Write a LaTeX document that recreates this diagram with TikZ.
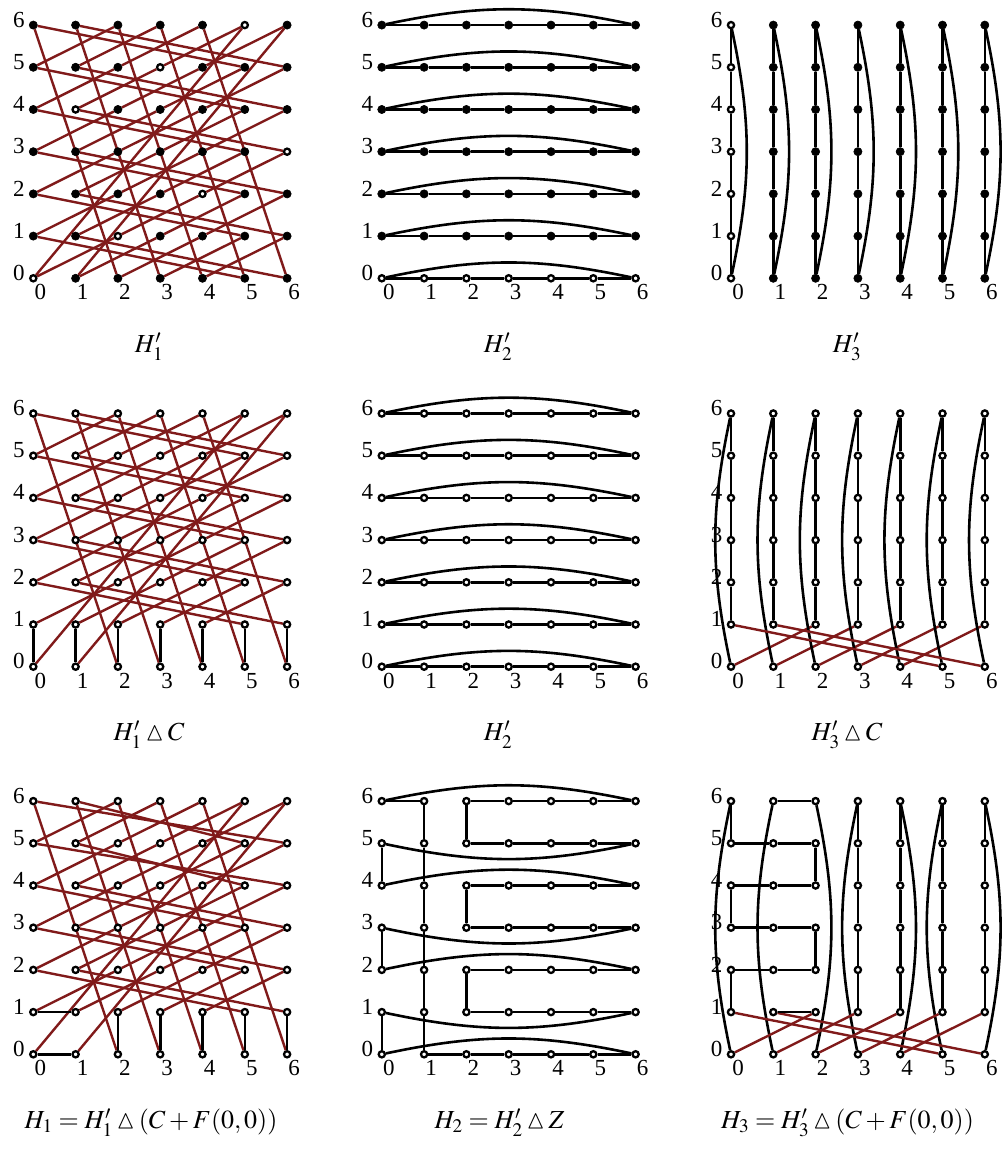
\documentclass[tikz,border=0pt]{standalone}
\usepackage{amssymb}
\usepackage{mathptmx}
\usepackage{fontspec}
\setmainfont{Liberation Serif}
\usetikzlibrary{backgrounds}
\definecolor{edgered}{RGB}{128,26,26}
\tikzset{
  vfill/.style={circle, fill=black, draw=black, line width=0.6pt, minimum size=8.2pt, inner sep=0pt},
  vhol/.style={circle, fill=white, draw=black, line width=2.3pt, minimum size=6.2pt, inner sep=0pt},
  redge/.style={draw=edgered, line width=2.4pt},
  bedge/.style={draw=black, line width=2.6pt},
  lab/.style={font=\fontsize{23}{25}\selectfont, inner sep=0pt},
  captxt/.style={font=\fontsize{26}{28}\selectfont, inner sep=0pt, anchor=base},
}
\newcommand{\mkverts}[4]{%
  \foreach \i in {0,...,6}{\foreach \j in {0,...,6}{%
    \ifcase#4 \def\h{1}\or
      \pgfmathtruncatemacro{\h}{mod(\i-2*\j+14,7)==0}\or
      \pgfmathtruncatemacro{\h}{\j==0}\or
      \pgfmathtruncatemacro{\h}{\i==0}\fi
    \ifnum\h=1 \node[vhol] (#1-\i-\j) at ({#2+\i*42.3},{#3+\j*42.2}) {};%
    \else \node[vfill] (#1-\i-\j) at ({#2+\i*42.3},{#3+\j*42.2}) {};\fi
  }}%
  \foreach \j in {0,...,6}{\node[lab] (#1-r\j) at ({#2-14.5},{#3+\j*42.2+5.5}) {\j};}%
  \foreach \i in {0,...,6}{\node[lab] (#1-c\i) at ({#2+\i*42.3+7},{#3-14}) {\i};}%
}
\begin{document}
\begin{tikzpicture}[x=1pt,y=1pt]
\useasboundingbox (0,0) rectangle (1005,1151);
% vertices
\mkverts{pa}{33.3}{872.7}{1}
\mkverts{pb}{381.8}{872.7}{2}
\mkverts{pc}{731}{872.7}{3}
\mkverts{pd}{33.3}{484.3}{0}
\mkverts{pe}{381.8}{484.3}{0}
\mkverts{pf}{731}{484.3}{0}
\mkverts{pg}{33.3}{96.7}{0}
\mkverts{ph}{381.8}{96.7}{0}
\mkverts{pi}{731}{96.7}{0}
% captions
\node[captxt] (capa) at (149,798.5) {$H'_1$};
\node[captxt] (capb) at (498,798.5) {$H'_2$};
\node[captxt] (capc) at (847,798.5) {$H'_3$};
\node[captxt] (capd) at (149,410.3) {$H'_1 \mathbin{\vartriangle} C$};
\node[captxt] (cape) at (498,410.3) {$H'_2$};
\node[captxt] (capf) at (847,410.3) {$H'_3 \mathbin{\vartriangle} C$};
\node[captxt] (capg) at (151,22) {$H_1 = H'_1 \mathbin{\vartriangle} (C + F(0,0))$};
\node[captxt] (caph) at (499.5,22) {$H_2 = H'_2 \mathbin{\vartriangle} Z$};
\node[captxt] (capi) at (847.5,22) {$H_3 = H'_3 \mathbin{\vartriangle} (C + F(0,0))$};
\begin{pgfonlayer}{background}
% ---- panel a: H1'
\foreach \i in {0,...,6}{\foreach \j in {0,...,6}{
  \pgfmathtruncatemacro{\k}{mod(\i+2,7)}
  \pgfmathtruncatemacro{\l}{mod(\j+1,7)}
  \draw[redge] (pa-\i-\j) -- (pa-\k-\l);
}}
% ---- panels b, e: H2'
\foreach \p in {pb,pe}{
  \foreach \j in {0,...,6}{
    \foreach \i [evaluate=\i as \k using int(\i+1)] in {0,...,5}{\draw[bedge] (\p-\i-\j) -- (\p-\k-\j);}
    \draw[bedge] (\p-0-\j) to[bend left=12] (\p-6-\j);
  }
}
% ---- panel c: H3'
\foreach \i in {0,...,6}{
  \foreach \j [evaluate=\j as \l using int(\j+1)] in {0,...,5}{\draw[bedge] (pc-\i-\j) -- (pc-\i-\l);}
  \draw[bedge] (pc-\i-0) to[bend right=12] (pc-\i-6);
}
% ---- panel d: diagonals without row 0 -> row 1
\foreach \i in {0,...,6}{\foreach \j in {1,...,6}{
  \pgfmathtruncatemacro{\k}{mod(\i+2,7)}
  \pgfmathtruncatemacro{\l}{mod(\j+1,7)}
  \draw[redge] (pd-\i-\j) -- (pd-\k-\l);
}}
\foreach \i in {0,...,6}{\draw[bedge] (pd-\i-0) -- (pd-\i-1);}
% ---- panel g: H1
\foreach \i in {0,...,6}{\foreach \j in {1,...,6}{
  \pgfmathtruncatemacro{\k}{mod(\i+2,7)}
  \pgfmathtruncatemacro{\l}{mod(\j+1,7)}
  \pgfmathtruncatemacro{\skip}{(\i>4)&&((\j==4)||(\j==5))}
  \ifnum\skip=0 \draw[redge] (pg-\i-\j) -- (pg-\k-\l);\fi
}}
\foreach \j [evaluate=\j as \l using int(\j+1)] in {4,5}{
  \draw[redge] (pg-5-\j) -- (pg-1-\l);
  \draw[redge] (pg-6-\j) -- (pg-0-\l);
}
\foreach \i in {2,...,6}{\draw[bedge] (pg-\i-0) -- (pg-\i-1);}
\draw[bedge] (pg-0-0) -- (pg-1-0);
\draw[bedge] (pg-0-1) -- (pg-1-1);
% ---- panel f: H3' with C
\foreach \i in {0,...,6}{
  \foreach \j [evaluate=\j as \l using int(\j+1)] in {1,...,5}{\draw[bedge] (pf-\i-\j) -- (pf-\i-\l);}
  \draw[bedge] (pf-\i-0) to[bend left=12] (pf-\i-6);
  \pgfmathtruncatemacro{\k}{mod(\i+2,7)}
  \draw[redge] (pf-\i-0) -- (pf-\k-1);
}
% ---- panel h: H2
\foreach \j in {0,2,4,6}{\draw[bedge] (ph-0-\j) to[bend left=12] (ph-6-\j);}
\foreach \j in {1,3,5}{\draw[bedge] (ph-0-\j) to[bend right=12] (ph-6-\j);}
\foreach \j in {1,...,6}{
  \foreach \i [evaluate=\i as \k using int(\i+1)] in {2,...,5}{\draw[bedge] (ph-\i-\j) -- (ph-\k-\j);}
}
\foreach \i [evaluate=\i as \k using int(\i+1)] in {1,...,5}{\draw[bedge] (ph-\i-0) -- (ph-\k-0);}
\draw[bedge] (ph-0-6) -- (ph-1-6);
\foreach \j [evaluate=\j as \l using int(\j+1)] in {0,...,5}{\draw[bedge] (ph-1-\j) -- (ph-1-\l);}
\draw[bedge] (ph-0-5) -- (ph-0-4);
\draw[bedge] (ph-0-3) -- (ph-0-2);
\draw[bedge] (ph-0-1) -- (ph-0-0);
\draw[bedge] (ph-2-6) -- (ph-2-5);
\draw[bedge] (ph-2-4) -- (ph-2-3);
\draw[bedge] (ph-2-2) -- (ph-2-1);
% ---- panel i: H3
\foreach \i in {0,1,3,5}{\draw[bedge] (pi-\i-0) to[bend left=12] (pi-\i-6);}
\foreach \i in {2,4,6}{\draw[bedge] (pi-\i-0) to[bend right=12] (pi-\i-6);}
\foreach \i in {0,...,6}{
  \pgfmathtruncatemacro{\k}{mod(\i+2,7)}
  \draw[redge] (pi-\i-0) -- (pi-\k-1);
}
\foreach \i in {3,...,6}{
  \foreach \j [evaluate=\j as \l using int(\j+1)] in {1,...,5}{\draw[bedge] (pi-\i-\j) -- (pi-\i-\l);}
}
\draw[bedge] (pi-0-6) -- (pi-0-5);
\draw[bedge] (pi-0-4) -- (pi-0-3);
\draw[bedge] (pi-0-2) -- (pi-0-1);
\draw[bedge] (pi-2-5) -- (pi-2-4);
\draw[bedge] (pi-2-3) -- (pi-2-2);
\draw[bedge] (pi-1-6) -- (pi-2-6);
\draw[bedge] (pi-1-1) -- (pi-2-1);
\foreach \j in {2,...,5}{\draw[bedge] (pi-0-\j) -- (pi-1-\j) -- (pi-2-\j);}
\end{pgfonlayer}
\end{tikzpicture}
\end{document}
